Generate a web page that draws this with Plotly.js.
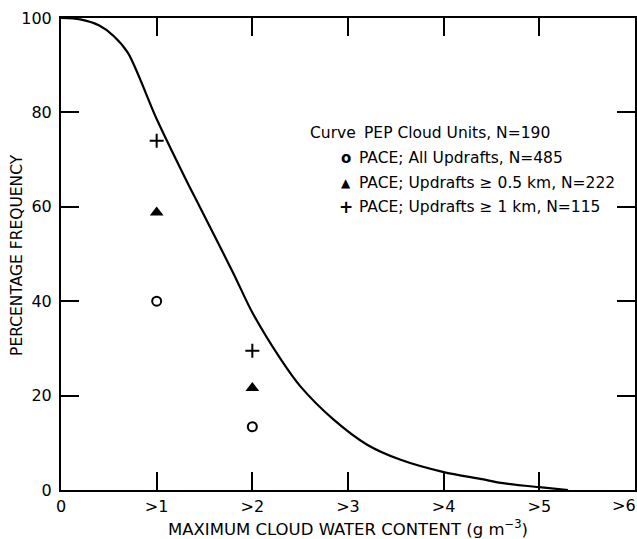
<!DOCTYPE html>
<html>
<head>
<meta charset="utf-8">
<script src="https://cdn.plot.ly/plotly-3.0.1.min.js"></script>
<style>html,body{margin:0;padding:0;background:#fff;}#chart{width:637px;height:539px;}</style>
</head>
<body>
<div id="chart"></div>
<script>
// PEP cloud units curve (percentage frequency vs max cloud water content)
var curveX = [0, 0.2, 0.4, 0.55, 0.7, 1.0, 1.3, 1.45, 1.8, 2.0, 2.3, 2.5, 2.85, 3.2, 3.55, 4.0, 4.4, 4.6, 5.0, 5.3];
var curveY = [100, 99.7, 98.4, 96.2, 92.6, 78.6, 66, 60, 46, 37.6, 27.6, 22, 14.9, 9.6, 6.4, 3.8, 2.3, 1.5, 0.6, 0];

// PACE observations
var paceX = [1, 2];
var paceAll = [40, 13.4];       // All updrafts, N=485
var pace05 = [58.8, 21.6];      // Updrafts >= 0.5 km, N=222
var pace1 = [74, 29.5];         // Updrafts >= 1 km, N=115

var xTickVals = [0, 1, 2, 3, 4, 5, 6];
var xTickText = ["0", ">1", ">2", ">3", ">4", ">5", ">6"];
var yTickVals = [0, 20, 40, 60, 80, 100];

var legendLabels = [
  "PACE; All Updrafts, N=485",
  "PACE; Updrafts \u2265 0.5 km, N=222",
  "PACE; Updrafts \u2265 1 km, N=115"
];

var FONT = "DejaVu Sans, Verdana, sans-serif";

var traces = [
  {x: curveX, y: curveY, mode: "lines", line: {color: "#000", width: 2.2, shape: "spline", smoothing: 0.8},
   name: "PEP Cloud Units, N=190", showlegend: false, hoverinfo: "skip"},
  {x: paceX, y: paceAll, mode: "markers", name: legendLabels[0], showlegend: false,
   marker: {symbol: "circle-open", size: 9, color: "#000", line: {width: 2, color: "#000"}}},
  {x: paceX, y: pace05, mode: "markers", name: legendLabels[1], showlegend: false,
   marker: {symbol: "triangle-up", size: 12, color: "#000"}},
  {x: paceX, y: pace1, mode: "markers", name: legendLabels[2], showlegend: false,
   marker: {symbol: "cross-thin-open", size: 10, color: "#000", line: {width: 2, color: "#000"}}}
];

// tick labels drawn by the axis except the last, which sits flush with the right edge
var axisTickText = xTickText.slice(0, 6).concat([""]);

var rowY = [0.703, 0.650, 0.600];
var symText = ["<b>o</b>", "\u25B2", "<b>+</b>"];
var symSize = [15, 12, 17];
var annotations = [
  {xref: "paper", yref: "paper", x: 0.430, y: 0.756, xanchor: "left", yanchor: "middle", showarrow: false,
   text: "Curve", font: {family: FONT, size: 15.5, color: "#000"}},
  {xref: "paper", yref: "paper", x: 0.524, y: 0.756, xanchor: "left", yanchor: "middle", showarrow: false,
   text: "PEP Cloud Units, N=190", font: {family: FONT, size: 15.5, color: "#000"}},
  {xref: "x", yref: "paper", x: xTickVals[6], y: -0.032, xanchor: "right", yanchor: "middle", showarrow: false,
   xshift: 3, text: xTickText[6], font: {family: FONT, size: 16, color: "#000"}},
  {xref: "paper", yref: "paper", x: -0.0767, y: 0.498, xanchor: "center", yanchor: "middle", showarrow: false,
   textangle: -90, text: "PERCENTAGE FREQUENCY", font: {family: FONT, size: 15.5, color: "#000"}}
];
for (var i = 0; i < 3; i++) {
  annotations.push({xref: "paper", yref: "paper", x: 0.4965, y: rowY[i], xanchor: "center", yanchor: "middle",
    showarrow: false, text: symText[i], font: {family: FONT, size: symSize[i], color: "#000"}});
  annotations.push({xref: "paper", yref: "paper", x: 0.516, y: rowY[i], xanchor: "left", yanchor: "middle",
    showarrow: false, text: legendLabels[i], font: {family: FONT, size: 15.5, color: "#000"}});
}

var layout = {
  width: 637, height: 539,
  margin: {l: 61, r: 2, t: 18, b: 49, pad: 0},
  paper_bgcolor: "#fff", plot_bgcolor: "#fff",
  font: {family: FONT, size: 16, color: "#000"},
  showlegend: false,
  xaxis: {
    range: [0, 6], tickvals: xTickVals, ticktext: axisTickText,
    ticks: "inside", ticklen: 18, tickwidth: 2, tickcolor: "#000",
    showline: true, linewidth: 2, linecolor: "#000", mirror: "ticks",
    showgrid: false, zeroline: false, automargin: false, ticklabelstandoff: 1,
    tickfont: {family: FONT, size: 16, color: "#000"},
    title: {text: "MAXIMUM CLOUD WATER CONTENT (g m<sup>\u22123</sup>)", font: {family: FONT, size: 16.5, color: "#000"}, standoff: 8}
  },
  yaxis: {
    range: [0, 100], tickvals: yTickVals,
    ticks: "inside", ticklen: 18, tickwidth: 2, tickcolor: "#000",
    showline: true, linewidth: 2, linecolor: "#000", mirror: "ticks",
    showgrid: false, zeroline: false, automargin: false, ticklabelstandoff: 4,
    tickfont: {family: FONT, size: 16, color: "#000"}
  },
  annotations: annotations
};

Plotly.newPlot("chart", traces, layout, {displayModeBar: false, staticPlot: true});
</script>
</body>
</html>
